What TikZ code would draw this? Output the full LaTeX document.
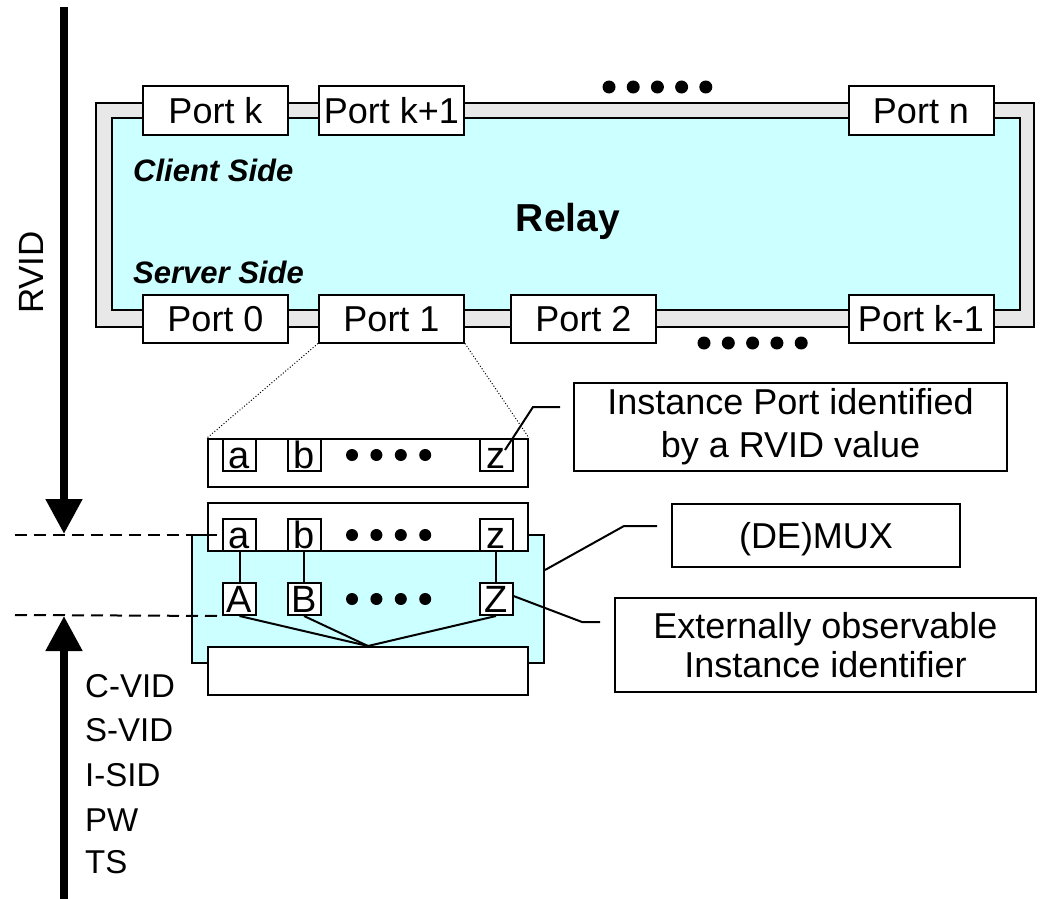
\documentclass[tikz,border=0pt]{standalone}
\usepackage{fontspec}
\setmainfont{Liberation Sans}
\usetikzlibrary{arrows.meta,calc}
\definecolor{relaycyan}{HTML}{CCFFFF}
\definecolor{framegray}{HTML}{E8E8E8}
\newcommand{\fs}[2]{\fontsize{#1}{#2}\selectfont}
\tikzset{
  line/.style={line width=2pt},
  portbox/.style={draw, line width=2pt, fill=white, minimum width=145pt, minimum height=48pt,
                  inner sep=0pt, text height=26pt, text depth=0pt, font=\fs{36}{43}},
  instbar/.style={draw, line width=2pt, fill=white, minimum width=320pt, minimum height=48pt, inner sep=0pt},
  idbox/.style={draw, line width=2pt, fill=white, minimum width=33pt, minimum height=32pt,
                inner sep=0pt, text height=27pt, text depth=0pt, font=\fs{38}{44}},
  callout/.style={draw, line width=2pt, fill=white, inner sep=0pt, align=center},
  bigdot/.style={circle, fill=black, minimum size=13pt, inner sep=0pt},
  thick arrow/.style={line width=8pt, -{Triangle[width=35pt,length=35pt]}},
  levelline/.style={line width=2pt, dash pattern=on 12pt off 7pt},
  sidelabel/.style={anchor=base west, inner sep=0pt, font=\fs{31}{36}\bfseries\itshape},
  stacklabel/.style={anchor=base west, inner sep=0pt, font=\fs{33}{40}}
}
\begin{document}
\begin{tikzpicture}[x=1pt,y=-1pt]
\useasboundingbox (0,0) rectangle (1047,899);

% relay body: grey frame around the cyan core
\draw[line width=2pt, fill=framegray] (96,103) rectangle (1034,327);
\draw[line width=2pt, fill=relaycyan] (112,118) rectangle (1020,310);

% client-side ports
\node[portbox] (pk)  at (215.5,110.5) {Port k};
\node[portbox] (pk1) at (391.5,110.5) {Port k+1};
\node[portbox] (pn)  at (921,110.5)   {Port n};
% server-side ports
\node[portbox] (p0)  at (215.5,318.5) {Port 0};
\node[portbox] (p1)  at (391.5,318.5) {Port 1};
\node[portbox] (p2)  at (583.5,318.5) {Port 2};
\node[portbox] (pk-1) at (921,318.5)  {Port k-1};

\foreach \i in {0,...,4} {
  \node[bigdot] (td\i) at (609+24.2*\i,87) {};
  \node[bigdot] (bd\i) at (704+24.3*\i,343) {};
}

\node[sidelabel] (client) at (133,181) {Client Side};
\node[sidelabel] (server) at (133,283) {Server Side};
\node[font=\fs{39}{46}\bfseries, inner sep=0pt, text height=28pt, text depth=0pt] (relay) at (568,217) {Relay};

% RVID axis
\coordinate (rvidtop) at (64,7);
\coordinate (rvidtip) at (64,534);
\draw[thick arrow] (rvidtop) -- (rvidtip);
\node[rotate=90, font=\fs{35}{42}, inner sep=0pt] (rvid) at (31,272.5) {RVID};

% external identifier axis
\coordinate (extbot) at (64,899);
\coordinate (exttip) at (64,616);
\draw[thick arrow] (extbot) -- (exttip);
\node[stacklabel] (cvid) at (85,697)   {C-VID};
\node[stacklabel] (svid) at (85,741.5) {S-VID};
\node[stacklabel] (isid) at (85,786)   {I-SID};
\node[stacklabel] (pw)   at (85,831)   {PW};
\node[stacklabel] (ts)   at (85,873)   {TS};

% instance ports of Port 1
\node[instbar] (ib1) at (368,463) {};
\node[idbox] (a1) at (239.5,455) {a};
\node[idbox] (b1) at (304,455)   {b};
\node[idbox] (z1) at (496,455)   {z};
\foreach \i in {0,...,3} \node[bigdot, minimum size=12pt] (ud\i) at (352+24.4*\i,455) {};

% (DE)MUX block
\node[draw, line width=2pt, fill=relaycyan, minimum width=352pt, minimum height=128pt, inner sep=0pt] (dm) at (368,599) {};
\node[instbar] (ib2) at (368,527) {};
\node[instbar] (ib3) at (368,671) {};
\node[idbox] (a2) at (239.5,535) {a};
\node[idbox] (b2) at (304,535)   {b};
\node[idbox] (z2) at (496,535)   {z};
\node[idbox] (A) at (239.5,599) {A};
\node[idbox] (B) at (304,599)   {B};
\node[idbox] (Z) at (496,599)   {Z};
\foreach \i in {0,...,3} {
  \node[bigdot, minimum size=12pt] (md\i) at (352+24.4*\i,535) {};
  \node[bigdot, minimum size=12pt] (ld\i) at (352+24.4*\i,599) {};
}
\draw[line] (a2) -- (A);
\draw[line] (b2) -- (B);
\draw[line] (z2) -- (Z);
\draw[line] (A.south) -- (ib3.north);
\draw[line] (B.south) -- (ib3.north);
\draw[line] (Z.south) -- (ib3.north);

% zoom from Port 1 to its instance ports
\draw[line width=1pt, dotted] (p1.south west) -- (ib1.north west);
\draw[line width=1pt, dotted] (p1.south east) -- (ib1.north east);

% level markers
\coordinate (lvlA) at (15,535);
\coordinate (lvlB) at (15,615);
\draw[levelline] (lvlA) -- (a2.west);
\draw[levelline] (lvlB) -- (A.south west);

% callouts
\node[callout, minimum width=433pt, minimum height=88pt, font=\fs{36}{42.7}] (cinst) at (790.5,427)
  {Instance Port identified\\by a RVID value};
\node[callout, minimum width=288pt, minimum height=63pt, text height=26pt, text depth=0pt, font=\fs{36}{43}] (cmux) at (816,535)
  {(DE)MUX};
\node[callout, minimum width=421pt, minimum height=94pt, font=\fs{36}{38.5}] (cext) at (825.5,645)
  {Externally observable\\Instance identifier};

\coordinate (k1) at (533,407);
\coordinate (k1e) at (560,407);
\draw[line] ([xshift=9pt,yshift=5pt]z1.center) -- (k1) -- (k1e);
\coordinate (k2) at (624,526);
\coordinate (k2e) at (657,526);
\draw[line] ([yshift=29pt]dm.east) -- (k2) -- (k2e);
\coordinate (k3) at (582,622);
\coordinate (k3e) at (600,622);
\draw[line] ([yshift=3pt]Z.east) -- (k3) -- (k3e);
\end{tikzpicture}
\end{document}
